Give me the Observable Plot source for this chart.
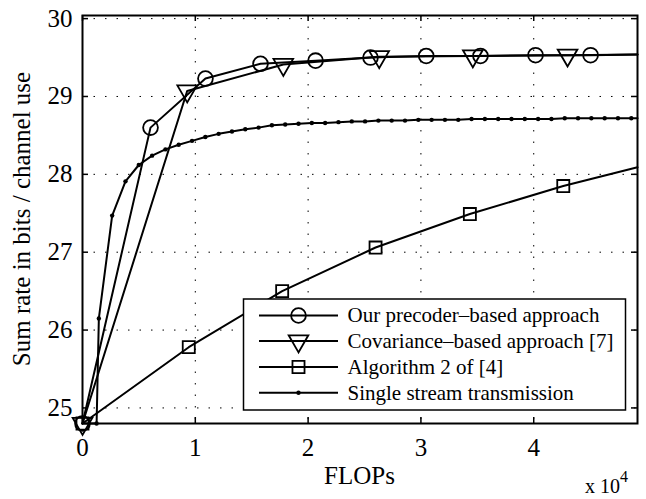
<!DOCTYPE html>
<html>
<head>
<meta charset="utf-8">
<script src="https://cdn.jsdelivr.net/npm/d3@7"></script>
<script src="https://cdn.jsdelivr.net/npm/@observablehq/plot@0.6"></script>
<style>
  html, body { margin: 0; padding: 0; background: white; }
  svg { display: block; }
</style>
</head>
<body>
<div id="chart"></div>
<script>
// ---- data (x in units of 10^4 FLOPs) ----
const xEnd = 4.92;

const precoderX = [0, 0.603, 1.090, 1.578, 2.066, 2.553, 3.047, 3.528, 4.016, 4.504, xEnd];
const precoderY = [24.8, 28.60, 29.23, 29.42, 29.46, 29.50, 29.52, 29.52, 29.53, 29.53, 29.54];

const covX = [0, 0.928, 1.78, 2.63, 3.46, 4.30, xEnd];
const covY = [24.8, 29.07, 29.41, 29.51, 29.52, 29.53, 29.54];

const algX = [0, 0.942, 1.770, 2.598, 3.434, 4.262, xEnd];
const algY = [24.8, 25.78, 26.50, 27.06, 27.49, 27.85, 28.09];

const singleX = [0, 0.125, 0.145, 0.263, 0.381, 0.499, 0.617, 0.735, 0.853, 0.971, 1.089,
  1.207, 1.325, 1.443, 1.561, 1.679, 1.797, 1.915, 2.033, 2.151, 2.269, 2.387, 2.505,
  2.623, 2.741, 2.859, 2.977, 3.095, 3.213, 3.331, 3.449, 3.567, 3.685, 3.803, 3.921,
  4.039, 4.157, 4.275, 4.393, 4.511, 4.629, 4.747, 4.865, xEnd];
const singleY = [24.8, 24.8, 26.15, 27.47, 27.91, 28.12, 28.24, 28.32, 28.38, 28.43, 28.48,
  28.52, 28.55, 28.58, 28.60, 28.63, 28.64, 28.65, 28.66, 28.66, 28.67, 28.68, 28.68,
  28.69, 28.69, 28.69, 28.70, 28.70, 28.70, 28.70, 28.71, 28.71, 28.71, 28.71, 28.71,
  28.71, 28.71, 28.72, 28.72, 28.72, 28.72, 28.72, 28.72, 28.72];

const xTicks = [0, 1, 2, 3, 4];
const yTicks = [25, 26, 27, 28, 29, 30];
const seriesNames = [
  "Our precoder\u2013based approach",
  "Covariance\u2013based approach [7]",
  "Algorithm 2 of [4]",
  "Single stream transmission"
];
const xLabel = "FLOPs";
const yLabel = "Sum rate in bits / channel use";
const xExponent = "4";

const toRows = (xs, ys) => xs.map((x, i) => ({x, y: ys[i]}));
const precoder = toRows(precoderX, precoderY);
const cov = toRows(covX, covY);
const alg = toRows(algX, algY);
const single = toRows(singleX, singleY);

const W = 646, H = 499;
const mL = 82, mR = 9, mT = 15, mB = 76;
const fw = W - mL - mR, fh = H - mT - mB;
const FONT = "'Liberation Serif', 'Times New Roman', serif";

const lineOpts = {x: "x", y: "y", stroke: "black", strokeWidth: 2, curve: "linear"};

const chart = Plot.plot({
  width: W, height: H,
  marginLeft: mL, marginRight: mR, marginTop: mT, marginBottom: mB,
  style: {fontFamily: FONT, background: "white", color: "black"},
  x: {domain: [0, xEnd]},
  y: {domain: [24.8, 30.04]},
  marks: [
    // dotted grid
    Plot.ruleX(xTicks.filter(d => d > 0), {x: d => d, stroke: "black", strokeWidth: 1, strokeDasharray: "1.5,10"}),
    Plot.ruleY(yTicks, {y: d => d, stroke: "black", strokeWidth: 1, strokeDasharray: "1.5,10"}),
    // series lines
    Plot.line(precoder, lineOpts),
    Plot.line(cov, lineOpts),
    Plot.line(alg, lineOpts),
    Plot.line(single, lineOpts),
    // markers
    Plot.dot(single.slice(1, -1), {x: "x", y: "y", r: 2.2, fill: "black", stroke: "none"}),
    Plot.dot(precoder.slice(0, -1), {x: "x", y: "y", r: 7.4, symbol: "circle", fill: "none", stroke: "black", strokeWidth: 1.8}),
    Plot.dot(cov.slice(0, -1), {x: "x", y: "y", r: 7.3, symbol: "triangle", rotate: 180, fill: "none", stroke: "black", strokeWidth: 1.8}),
    Plot.dot(alg.slice(0, -1), {x: "x", y: "y", r: 6.8, symbol: "square", fill: "none", stroke: "black", strokeWidth: 1.8}),
    // frame
    Plot.frame({stroke: "black", strokeWidth: 2}),
    // inward ticks
    Plot.tickX(xTicks, {x: d => d, insetTop: fh - 6, stroke: "black", strokeWidth: 1.5}),
    Plot.tickX(xTicks, {x: d => d, insetBottom: fh - 6, stroke: "black", strokeWidth: 1.5}),
    Plot.tickY(yTicks, {y: d => d, insetRight: fw - 6, stroke: "black", strokeWidth: 1.5}),
    Plot.tickY(yTicks, {y: d => d, insetLeft: fw - 6, stroke: "black", strokeWidth: 1.5}),
    // axes (labels only)
    Plot.axisX({ticks: xTicks, tickSize: 0, tickPadding: 15, fontSize: 25, label: null, tickFormat: d => String(d)}),
    Plot.axisY({ticks: yTicks, tickSize: 0, tickPadding: 10, fontSize: 25, label: null, tickFormat: d => String(d)})
  ]
});

document.getElementById("chart").appendChild(chart);

// ---- annotations & legend ----
const svg = d3.select(chart);

svg.append("text")
  .attr("x", mL + fw / 2).attr("y", 484)
  .attr("text-anchor", "middle")
  .style("font-family", FONT).style("font-size", "25px").attr("fill", "black")
  .text(xLabel);

svg.append("text")
  .attr("transform", `translate(30,${mT + fh / 2}) rotate(-90)`)
  .attr("text-anchor", "middle")
  .style("font-family", FONT).style("font-size", "25px").attr("fill", "black")
  .text(yLabel);

const ex = svg.append("text")
  .attr("x", 585).attr("y", 493)
  .attr("text-anchor", "start")
  .style("font-family", FONT).style("font-size", "20px").attr("fill", "black");
ex.append("tspan").text("x 10");
ex.append("tspan").attr("dy", -11).style("font-size", "16px").text(xExponent);

// legend
const lg = svg.append("g");
const lx0 = 243.5, ly0 = 299, lx1 = 625.5, ly1 = 410;
lg.append("rect").attr("x", lx0).attr("y", ly0).attr("width", lx1 - lx0).attr("height", ly1 - ly0)
  .attr("fill", "white").attr("stroke", "black").attr("stroke-width", 1.5);
const rowY = [315.5, 341, 367, 392.7];
const symDefs = [
  {type: d3.symbolCircle, size: Math.PI * 7.4 * 7.4, rot: 0, fill: "none"},
  {type: d3.symbolTriangle, size: Math.PI * 7.3 * 7.3, rot: 180, fill: "none"},
  {type: d3.symbolSquare, size: Math.PI * 6.8 * 6.8, rot: 0, fill: "none"},
  {type: d3.symbolCircle, size: Math.PI * 2.2 * 2.2, rot: 0, fill: "black"}
];
seriesNames.forEach((name, i) => {
  const y = rowY[i];
  lg.append("line").attr("x1", 259).attr("x2", 338).attr("y1", y).attr("y2", y)
    .attr("stroke", "black").attr("stroke-width", 2);
  const s = symDefs[i];
  lg.append("path").attr("d", d3.symbol(s.type, s.size)())
    .attr("transform", `translate(298.5,${y}) rotate(${s.rot})`)
    .attr("fill", s.fill).attr("stroke", s.fill === "black" ? "none" : "black")
    .attr("stroke-width", 1.8);
  lg.append("text").attr("x", 347.5).attr("y", y).attr("dy", "0.33em")
    .attr("text-anchor", "start")
    .style("font-family", FONT).style("font-size", "21px").attr("fill", "black")
    .text(name);
});
</script>
</body>
</html>
